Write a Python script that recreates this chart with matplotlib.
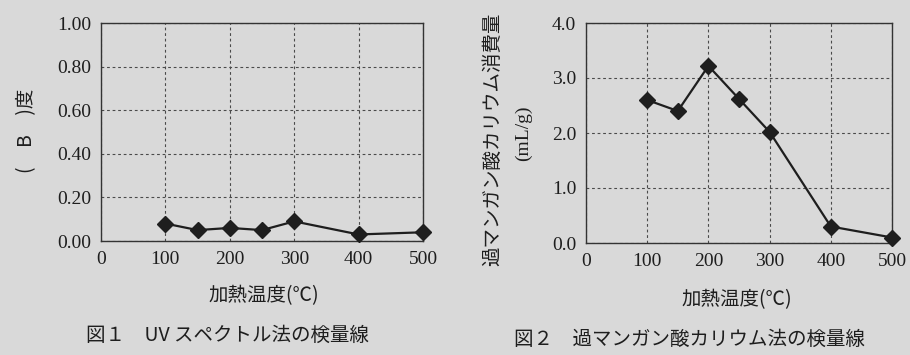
import matplotlib
matplotlib.use('Agg')
import matplotlib.pyplot as plt

# Data
temps = [100, 150, 200, 250, 300, 400, 500]
uv_values = [0.08, 0.05, 0.06, 0.05, 0.09, 0.03, 0.04]
kmno4_values = [2.6, 2.4, 3.22, 2.62, 2.02, 0.3, 0.1]
x_ticks = [0, 100, 200, 300, 400, 500]
uv_ticks = [0.0, 0.2, 0.4, 0.6, 0.8, 1.0]
kmno4_ticks = [0.0, 1.0, 2.0, 3.0, 4.0]

bg = '#d9d9d9'
ink = '#1e1e1e'
jp = ['Noto Sans CJK JP', 'DejaVu Sans']
serif = ['Liberation Serif', 'DejaVu Serif']

fig = plt.figure(figsize=(9.1, 3.55), dpi=100, facecolor=bg)

W, H = 910, 355


def make_axes(x0, x1, y0, y1):
    return fig.add_axes([x0 / W, (H - y1) / H, (x1 - x0) / W, (y1 - y0) / H])


def style(ax, yticks, fmt):
    ax.set_facecolor(bg)
    ax.set_xlim(0, 500)
    ax.set_ylim(yticks[0], yticks[-1])
    ax.set_xticks(x_ticks)
    ax.set_yticks(yticks)
    ax.set_xticklabels([str(t) for t in x_ticks], fontfamily=serif, fontsize=14, color=ink)
    ax.set_yticklabels([fmt.format(t) for t in yticks], fontfamily=serif, fontsize=14, color=ink)
    ax.tick_params(length=0, pad=7)
    ax.grid(True, linestyle=(0, (2.5, 2.5)), color='#4a4a4a', linewidth=0.8)
    for s in ax.spines.values():
        s.set_color('#333333')
        s.set_linewidth(1.0)


# Fig 1
ax1 = make_axes(101, 423, 23, 241)
style(ax1, uv_ticks, '{:.2f}')
ax1.plot(temps, uv_values, color=ink, linewidth=1.6, marker='D', markersize=8.5,
         clip_on=False, zorder=5)
fig.text(27 / W, 1 - 131 / H, '(　B　)度', rotation=90, ha='center', va='center',
         fontfamily=jp, fontsize=14, color=ink)
fig.text(264 / W, 1 - 296 / H, '加熱温度(℃)', ha='center', va='center',
         fontfamily=jp, fontsize=14, color=ink)
fig.text(228 / W, 1 - 335 / H, '図１　UV スペクトル法の検量線', ha='center', va='center',
         fontfamily=jp, fontsize=14, color=ink)

# Fig 2
ax2 = make_axes(586, 892, 23, 243)
style(ax2, kmno4_ticks, '{:.1f}')
ax2.plot(temps, kmno4_values, color=ink, linewidth=1.6, marker='D', markersize=8.5,
         clip_on=False, zorder=5)
fig.text(493 / W, 1 - 139 / H, '過マンガン酸カリウム消費量', rotation=90, ha='center', va='center',
         fontfamily=jp, fontsize=14, color=ink)
fig.text(523 / W, 1 - 133 / H, '(mL/g)', rotation=90, ha='center', va='center',
         fontfamily=serif, fontsize=14, color=ink)
fig.text(737 / W, 1 - 300 / H, '加熱温度(℃)', ha='center', va='center',
         fontfamily=jp, fontsize=14, color=ink)
fig.text(690 / W, 1 - 339 / H, '図２　過マンガン酸カリウム法の検量線', ha='center', va='center',
         fontfamily=jp, fontsize=14, color=ink)

fig.savefig('out.png', dpi=100, facecolor=bg)
